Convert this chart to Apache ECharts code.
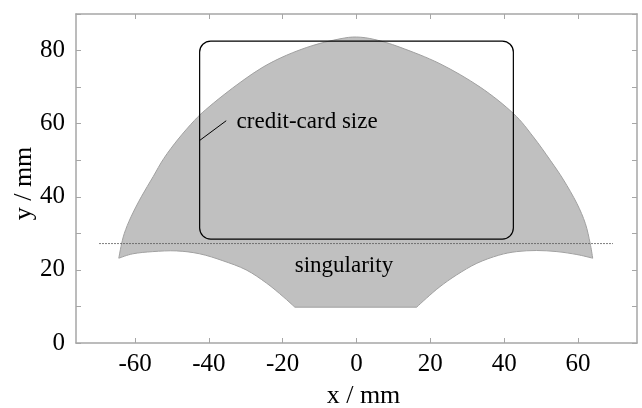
<!DOCTYPE html>
<html>
<head>
<meta charset="utf-8">
<script src="https://cdn.jsdelivr.net/npm/echarts@6/dist/echarts.min.js"></script>
<style>
    html, body { margin: 0; padding: 0; background: #fff; }
    #chart { width: 642px; height: 408px; }
</style>
</head>
<body>
<div id="chart"></div>
<script>
// outline of the workspace (x, y in mm)
const upperEdge = [
    [-64.4, 23.2], [-63.8, 26.4], [-62.9, 30.0], [-61.1, 34.5], [-58.3, 40.0],
    [-55.1, 45.5], [-52.2, 50.5], [-48.3, 55.8], [-43.9, 60.9], [-41.0, 63.7],
    [-36.2, 67.7], [-30.8, 71.8], [-25.3, 75.5], [-19.0, 78.7], [-11.8, 81.4],
    [-4.5, 83.2], [0.0, 83.7], [5.0, 83.0], [11.8, 80.9], [22.6, 76.4],
    [33.5, 70.0], [42.5, 62.8], [47.9, 56.4], [52.5, 50.0], [56.1, 44.6],
    [59.7, 38.2], [62.0, 32.7], [63.3, 27.3], [64.0, 23.2]
];
const lowerRight = [
    [64.0, 23.2], [59.7, 24.2], [54.3, 25.0], [48.8, 25.3], [43.4, 25.0],
    [38.5, 24.0], [32.6, 21.8], [27.1, 18.6], [22.6, 15.4], [19.0, 12.3],
    [16.3, 9.8]
];
const lowerLeft = [
    [-16.7, 9.8], [-19.9, 12.7], [-24.4, 16.4], [-29.9, 20.0],
    [-36.2, 22.5], [-42.5, 24.4], [-48.8, 25.2], [-55.2, 25.0], [-60.6, 24.4],
    [-64.4, 23.2]
];
const cardCorners = [[-42.5, 28.4], [42.5, 82.6]];
const cardRadius = 3;
const cardLeader = [[-42.5, 55.4], [-35.3, 60.8]];
const singularityLine = [[-69.7, 27.2], [69.5, 27.2]];
const notes = [
    { text: "credit-card size", pos: [-32.5, 60.6], align: "left" },
    { text: "singularity", pos: [-3.4, 21.1], align: "center" }
];
const xTicks = [-60, -40, -20, 0, 20, 40, 60];
const yTicks = [0, 10, 20, 30, 40, 50, 60, 70, 80, 90];
const yLabels = [0, 20, 40, 60, 80];

const FONT = "Liberation Serif";
const AXIS_GRAY = "#a6a6a6";

const chart = echarts.init(document.getElementById("chart"));

// smooth path through the read points (Catmull-Rom as cubic bezier)
function curveTo(pts) {
    let d = "";
    for (let i = 0; i < pts.length - 1; i++) {
        const p0 = pts[Math.max(i - 1, 0)];
        const p1 = pts[i];
        const p2 = pts[i + 1];
        const p3 = pts[Math.min(i + 2, pts.length - 1)];
        const c1 = [p1[0] + (p2[0] - p0[0]) / 6, p1[1] + (p2[1] - p0[1]) / 6];
        const c2 = [p2[0] - (p3[0] - p1[0]) / 6, p2[1] - (p3[1] - p1[1]) / 6];
        d += `C${c1[0]},${c1[1]} ${c2[0]},${c2[1]} ${p2[0]},${p2[1]} `;
    }
    return d;
}

function frameAxis(extra) {
    return Object.assign({
        type: "value",
        axisLine: { show: true, onZero: false, lineStyle: { color: AXIS_GRAY, width: 1.5 } },
        splitLine: { show: false },
        axisLabel: { show: false }
    }, extra);
}

function ticks(values) {
    return { show: true, inside: true, length: 5, customValues: values, lineStyle: { color: AXIS_GRAY, width: 1 } };
}

const labelStyle = {
    show: true,
    color: "#000",
    fontFamily: FONT,
    fontSize: 25
};

const option = {
    animation: false,
    grid: { left: 76, right: 5, top: 14, bottom: 65, outerBoundsMode: "none" },
    xAxis: [
        frameAxis({
            min: -76, max: 76,
            position: "bottom",
            axisTick: ticks(xTicks),
            axisLabel: Object.assign({ customValues: xTicks, margin: 9 }, labelStyle),
            name: "x / mm",
            nameLocation: "middle",
            nameMoveOverlap: false,
            nameGap: 40,
            nameTextStyle: { color: "#000", fontFamily: FONT, fontSize: 26, padding: [0, 0, 0, 14] }
        }),
        frameAxis({
            min: -76, max: 76,
            position: "top",
            axisTick: ticks(xTicks)
        })
    ],
    yAxis: [
        frameAxis({
            min: 0, max: 90,
            position: "left",
            axisTick: ticks(yTicks),
            axisLabel: Object.assign({ customValues: yLabels, margin: 11 }, labelStyle),
            name: "y / mm",
            nameLocation: "middle",
            nameMoveOverlap: false,
            nameGap: 39,
            nameTextStyle: { color: "#000", fontFamily: FONT, fontSize: 26, padding: [0, 10, 0, 0] }
        }),
        frameAxis({
            min: 0, max: 90,
            position: "right",
            axisTick: ticks(yTicks)
        })
    ],
    series: [
        {
            // reachable region
            type: "custom",
            z: 1,
            data: upperEdge.concat(lowerRight, lowerLeft),
            renderItem: function (params, api) {
                if (params.dataIndex !== 0) return;
                const up = upperEdge.map(p => api.coord(p));
                const lr = lowerRight.map(p => api.coord(p));
                const ll = lowerLeft.map(p => api.coord(p));
                const d = `M${up[0][0]},${up[0][1]} ` + curveTo(up) + curveTo(lr) +
                    `L${ll[0][0]},${ll[0][1]} ` + curveTo(ll) + "Z";
                return {
                    type: "path",
                    shape: { pathData: d },
                    style: { fill: "#c0c0c0", stroke: "#a0a0a0", lineWidth: 1 }
                };
            }
        },
        {
            // credit card outline
            type: "custom",
            z: 3,
            data: cardCorners,
            renderItem: function (params, api) {
                if (params.dataIndex !== 0) return;
                const a = api.coord([cardCorners[0][0], cardCorners[1][1]]);
                const b = api.coord([cardCorners[1][0], cardCorners[0][1]]);
                const r = api.size([cardRadius, cardRadius]);
                return {
                    type: "rect",
                    shape: { x: a[0], y: a[1], width: b[0] - a[0], height: b[1] - a[1], r: r[0] },
                    style: { fill: null, stroke: "#000", lineWidth: 1.2 }
                };
            }
        },
        {
            type: "line",
            z: 3,
            data: cardLeader,
            showSymbol: false,
            lineStyle: { color: "#000", width: 1 },
            silent: true
        },
        {
            type: "line",
            z: 4,
            data: singularityLine,
            showSymbol: false,
            lineStyle: { color: "#555", width: 1, type: [1.5, 1.5] },
            silent: true
        },
        {
            type: "custom",
            z: 5,
            data: notes.map(n => n.pos),
            renderItem: function (params, api) {
                const n = notes[params.dataIndex];
                const p = api.coord(n.pos);
                return {
                    type: "text",
                    x: p[0],
                    y: p[1],
                    style: {
                        text: n.text,
                        fill: "#000",
                        font: "23px '" + FONT + "'",
                        align: n.align,
                        verticalAlign: "middle"
                    }
                };
            }
        }
    ]
};

chart.setOption(option);
</script>
</body>
</html>
